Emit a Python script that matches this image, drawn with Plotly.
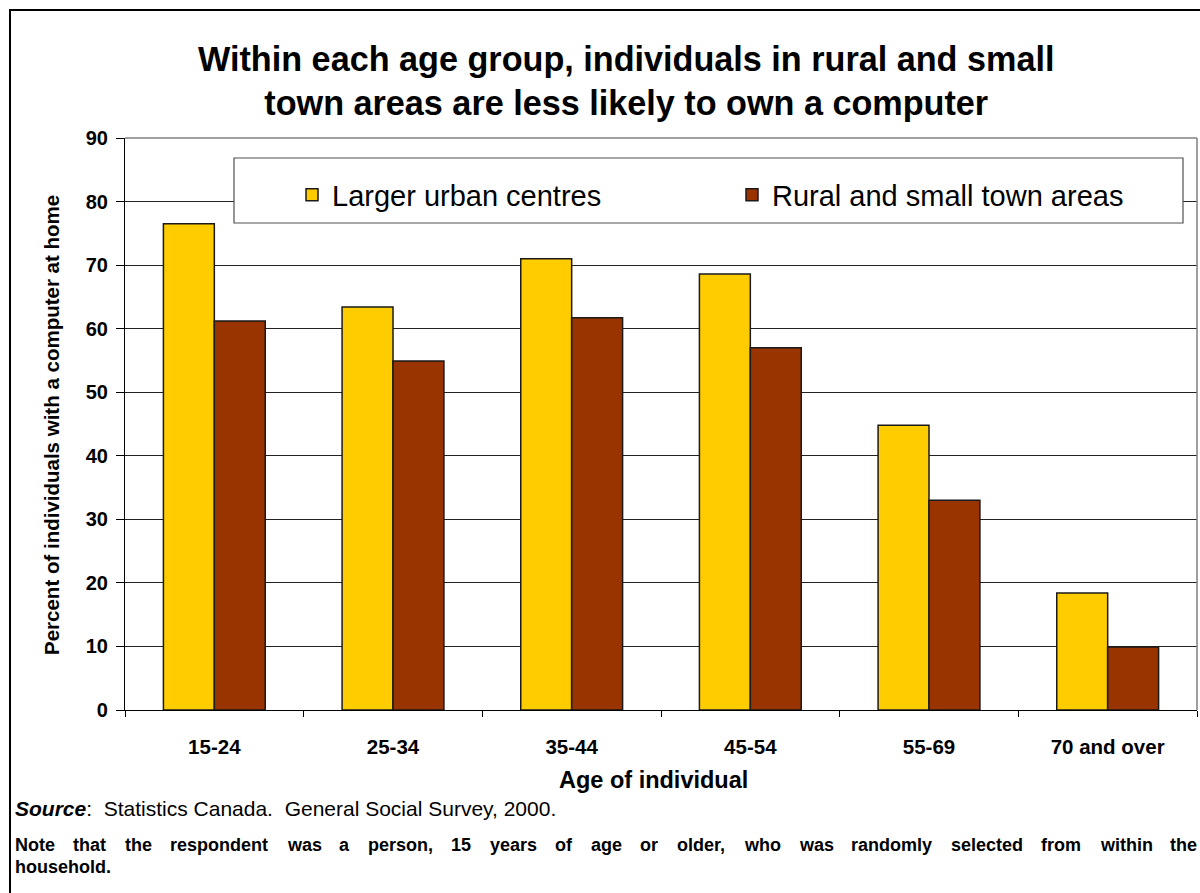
import plotly.graph_objects as go

# Survey results: share of individuals with a home computer, by age group
age_groups = ["15-24", "25-34", "35-44", "45-54", "55-69", "70 and over"]
urban_pct = [76.5, 63.4, 71.0, 68.6, 44.8, 18.4]
rural_pct = [61.2, 54.9, 61.7, 57.0, 33.0, 9.9]
series_names = ["Larger urban centres", "Rural and small town areas"]
y_ticks = [0, 10, 20, 30, 40, 50, 60, 70, 80, 90]

FONT = "Liberation Sans, Arial, sans-serif"
W, H = 1200, 893
L, R, T, B = 125, 3, 138, 183
PW, PH = W - L - R, H - T - B


def px_x(x):
    return (x - L) / PW


def px_y(y):
    return (H - B - y) / PH


fig = go.Figure()
fig.add_trace(go.Bar(
    x=age_groups, y=urban_pct, name=series_names[0],
    marker=dict(color="#FFCC00", line=dict(color="#1a1a1a", width=1.5)),
))
fig.add_trace(go.Bar(
    x=age_groups, y=rural_pct, name=series_names[1],
    marker=dict(color="#993300", line=dict(color="#1a1a1a", width=1.5)),
))

shapes = [
    # outer frame
    dict(type="rect", xref="paper", yref="paper",
         x0=px_x(10), x1=px_x(1215), y0=px_y(10), y1=px_y(910),
         line=dict(color="black", width=2), layer="below"),
    # plot area top and right edges
    dict(type="line", xref="paper", yref="paper",
         x0=0, x1=1, y0=1, y1=1, line=dict(color="#808080", width=1.5)),
    dict(type="line", xref="paper", yref="paper",
         x0=1, x1=1, y0=0, y1=1, line=dict(color="#808080", width=1.5)),
    # legend frame
    dict(type="rect", xref="paper", yref="paper",
         x0=px_x(234), x1=px_x(1183), y0=px_y(158), y1=px_y(223),
         line=dict(color="#505050", width=1.2), fillcolor="white", layer="above"),
]

annotations = [
    dict(text="<b>Within each age group, individuals in rural and small<br>"
              "town areas are less likely to own a computer</b>",
         xref="paper", yref="paper", x=px_x(626), y=px_y(81),
         xanchor="center", yanchor="middle", showarrow=False,
         font=dict(family=FONT, size=34.2, color="black")),
    dict(text="<b>Percent of individuals with a computer at home</b>",
         xref="paper", yref="paper", x=px_x(51), y=px_y(425),
         xanchor="center", yanchor="middle", textangle=-90, showarrow=False,
         font=dict(family=FONT, size=20.5, color="black")),
    dict(text="<b>Age of individual</b>",
         xref="paper", yref="paper", x=px_x(653), y=px_y(780),
         xanchor="center", yanchor="middle", showarrow=False,
         font=dict(family=FONT, size=23.5, color="black")),
    dict(text="<b><i>Source</i></b>:  Statistics Canada.  General Social Survey, 2000.",
         xref="paper", yref="paper", x=px_x(13), y=px_y(808),
         xanchor="left", yanchor="middle", showarrow=False,
         font=dict(family=FONT, size=21, color="black")),
    dict(text="<b>household.</b>",
         xref="paper", yref="paper", x=px_x(13), y=px_y(867),
         xanchor="left", yanchor="middle", showarrow=False,
         font=dict(family=FONT, size=18, color="black")),
]

# Justified first line of the note: words spread across the full width
note_line = ("Note that the respondent was a person, 15 years of age or older, "
             "who was randomly selected from within the")
bold_w = {
    "a": 556, "b": 611, "c": 556, "d": 611, "e": 556, "f": 333, "g": 611,
    "h": 611, "i": 278, "l": 278, "m": 889, "n": 611, "o": 611, "p": 611,
    "r": 389, "s": 556, "t": 333, "u": 611, "w": 778, "y": 556, "N": 722,
    ",": 278, ".": 278, "1": 556, "5": 556, "v": 556,
}
note_size = 18
words = note_line.split(" ")
widths = [sum(bold_w.get(c, 556) for c in w_) * note_size / 1000 for w_ in words]
x_start, x_end = 13, 1195
gap = (x_end - x_start - sum(widths)) / (len(words) - 1)
cx = x_start
for word, wd in zip(words, widths):
    annotations.append(dict(
        text="<b>" + word + "</b>", xref="paper", yref="paper",
        x=px_x(cx), y=px_y(845), xanchor="left", yanchor="middle",
        showarrow=False, font=dict(family=FONT, size=note_size, color="black")))
    cx += wd + gap

fig.update_layout(
    width=W, height=H,
    margin=dict(l=L, r=R, t=T, b=B, pad=0),
    paper_bgcolor="white", plot_bgcolor="white",
    font=dict(family=FONT, color="black"),
    barmode="group", bargap=0.43, bargroupgap=0,
    showlegend=True,
    legend=dict(
        orientation="h", x=px_x(292), y=px_y(195),
        xanchor="left", yanchor="middle",
        font=dict(family=FONT, size=29, color="black"),
        bgcolor="rgba(0,0,0,0)", borderwidth=0,
        entrywidth=395, entrywidthmode="pixels",
        traceorder="normal",
    ),
    shapes=shapes,
    annotations=annotations,
    xaxis=dict(
        type="category", showline=True, linecolor="black", linewidth=1.2,
        ticks="outside", tickson="boundaries", ticklen=6, tickcolor="black",
        tickfont=dict(family=FONT, size=20.5, color="black", weight="bold"),
        ticklabelstandoff=18, showgrid=False, zeroline=False,
    ),
    yaxis=dict(
        range=[0, 90], tickvals=y_ticks, showline=True, linecolor="black",
        linewidth=1.2, ticks="outside", ticklen=8, tickcolor="black",
        tickfont=dict(family=FONT, size=20, color="black", weight="bold"),
        ticklabelstandoff=4,
        showgrid=True, gridcolor="#222222", gridwidth=1, zeroline=False,
    ),
)

fig.write_html("out.html")
